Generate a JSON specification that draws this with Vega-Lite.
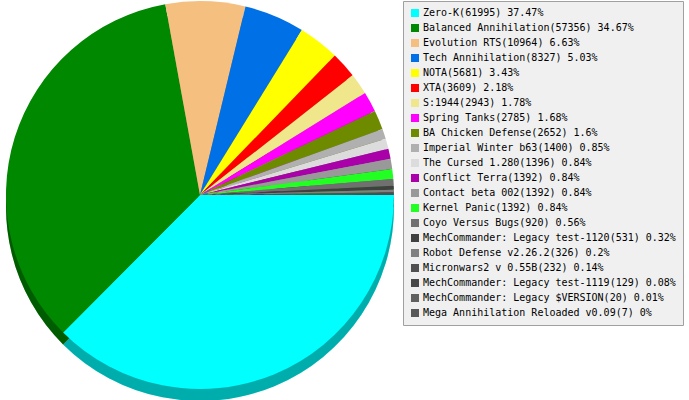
{
  "$schema": "https://vega.github.io/schema/vega-lite/v6.json",
  "width": 400,
  "height": 388,
  "padding": 0,
  "background": "white",
  "view": {"stroke": null},
  "data": {
    "values": [
      {"i": 1, "game": "Zero-K", "count": 61995, "pct": 37.47},
      {"i": 2, "game": "Balanced Annihilation", "count": 57356, "pct": 34.67},
      {"i": 3, "game": "Evolution RTS", "count": 10964, "pct": 6.63},
      {"i": 4, "game": "Tech Annihilation", "count": 8327, "pct": 5.03},
      {"i": 5, "game": "NOTA", "count": 5681, "pct": 3.43},
      {"i": 6, "game": "XTA", "count": 3609, "pct": 2.18},
      {"i": 7, "game": "S:1944", "count": 2943, "pct": 1.78},
      {"i": 8, "game": "Spring Tanks", "count": 2785, "pct": 1.68},
      {"i": 9, "game": "BA Chicken Defense", "count": 2652, "pct": 1.6},
      {"i": 10, "game": "Imperial Winter b63", "count": 1400, "pct": 0.85},
      {"i": 11, "game": "The Cursed 1.280", "count": 1396, "pct": 0.84},
      {"i": 12, "game": "Conflict Terra", "count": 1392, "pct": 0.84},
      {"i": 13, "game": "Contact beta 002", "count": 1392, "pct": 0.84},
      {"i": 14, "game": "Kernel Panic", "count": 1392, "pct": 0.84},
      {"i": 15, "game": "Coyo Versus Bugs", "count": 920, "pct": 0.56},
      {"i": 16, "game": "MechCommander: Legacy test-1120", "count": 531, "pct": 0.32},
      {"i": 17, "game": "Robot Defense v2.26.2", "count": 326, "pct": 0.2},
      {"i": 18, "game": "Micronwars2 v 0.55B", "count": 232, "pct": 0.14},
      {"i": 19, "game": "MechCommander: Legacy test-1119", "count": 129, "pct": 0.08},
      {"i": 20, "game": "MechCommander: Legacy $VERSION", "count": 20, "pct": 0.01},
      {"i": 21, "game": "Mega Annihilation Reloaded v0.09", "count": 7, "pct": 0}
    ]
  },
  "transform": [
    {"calculate": "datum.game + '(' + datum.count + ') ' + datum.pct + '%'", "as": "label"}
  ],
  "encoding": {
    "theta": {"field": "count", "type": "quantitative", "stack": true, "scale": {"range": [1.5708, 7.854]}},
    "order": {"field": "i", "type": "quantitative"}
  },
  "layer": [
    {
      "mark": {"type": "arc", "radius": 194, "yOffset": 12, "stroke": null},
      "encoding": {
        "color": {"field": "label", "type": "nominal", "sort": null}
      }
    },
    {
      "mark": {"type": "arc", "radius": 194, "yOffset": 12, "fill": "black", "opacity": 0.32, "stroke": null},
      "encoding": {}
    },
    {
      "mark": {"type": "arc", "radius": 194, "stroke": null},
      "encoding": {
        "color": {
          "field": "label",
          "type": "nominal",
          "sort": null,
          "scale": {
            "range": ["#00ffff", "#008800", "#f5bf80", "#0070e6", "#ffff00", "#ff0000", "#f0e68c", "#ff00ff", "#6e8b00", "#b0b0b0", "#dcdcdc", "#aa00aa", "#999999", "#22ff22", "#707070", "#404040", "#808080", "#505050", "#484848", "#606060", "#585858"]
          },
          "legend": {
            "title": null,
            "orient": "none",
            "legendX": 403,
            "legendY": 0,
            "fillColor": "#f0f0f0",
            "strokeColor": "#a0a0a0",
            "padding": 7,
            "symbolType": "square",
            "symbolSize": 64,
            "symbolStrokeColor": "#333333",
            "symbolStrokeWidth": 1,
            "symbolOpacity": 1,
            "labelFont": "DejaVu Sans Mono",
            "labelFontSize": 10,
            "labelColor": "#000000",
            "labelOffset": 3,
            "labelLimit": 0,
            "rowPadding": 5
          }
        }
      }
    }
  ]
}
